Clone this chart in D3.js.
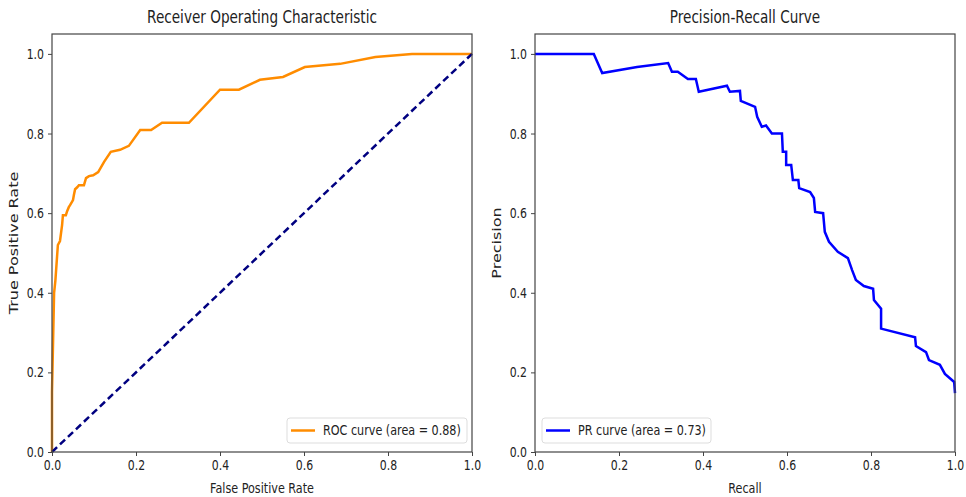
<!DOCTYPE html>
<html>
<head>
	<script src="https://cdn.jsdelivr.net/npm/d3@7"></script>
	<style>
		html, body { padding: 0; margin: 0; background: #fff; }
		text { font-family: "DejaVu Sans", sans-serif; fill: #222; }
	</style>
</head>
<body>
<script>
	var width = 966, height = 497;
	var sx = 0.8; // text in the picture is squeezed horizontally

	// ROC curve
	var rocFpr = [0, 0, 0.003, 0.005, 0.008, 0.012, 0.014, 0.019, 0.024, 0.026, 0.033, 0.036, 0.040, 0.043, 0.05, 0.052, 0.055, 0.06, 0.064, 0.076, 0.081, 0.088, 0.098, 0.11, 0.124, 0.14, 0.162, 0.183, 0.21, 0.236, 0.262, 0.326, 0.4, 0.445, 0.495, 0.55, 0.602, 0.686, 0.77, 0.857, 1];
	var rocTpr = [0, 0.15, 0.3, 0.4, 0.43, 0.49, 0.52, 0.53, 0.57, 0.595, 0.595, 0.605, 0.615, 0.62, 0.633, 0.645, 0.66, 0.665, 0.67, 0.67, 0.688, 0.693, 0.695, 0.703, 0.729, 0.754, 0.759, 0.769, 0.809, 0.809, 0.827, 0.827, 0.91, 0.91, 0.935, 0.942, 0.967, 0.975, 0.992, 1, 1];
	var chance = [0, 1];

	// precision-recall curve
	var prRecall = [0, 0.14, 0.16, 0.243, 0.317, 0.326, 0.34, 0.364, 0.383, 0.39, 0.457, 0.464, 0.488, 0.49, 0.524, 0.529, 0.54, 0.55, 0.564, 0.588, 0.59, 0.598, 0.598, 0.61, 0.614, 0.627, 0.629, 0.655, 0.664, 0.667, 0.686, 0.69, 0.7, 0.721, 0.745, 0.755, 0.764, 0.783, 0.805, 0.807, 0.824, 0.824, 0.905, 0.907, 0.931, 0.938, 0.964, 0.976, 0.998, 1];
	var prPrecision = [1, 1, 0.952, 0.967, 0.977, 0.955, 0.955, 0.937, 0.937, 0.905, 0.92, 0.905, 0.907, 0.882, 0.867, 0.842, 0.817, 0.82, 0.8, 0.80, 0.754, 0.754, 0.721, 0.721, 0.683, 0.683, 0.663, 0.653, 0.638, 0.603, 0.6, 0.553, 0.528, 0.503, 0.487, 0.457, 0.432, 0.417, 0.41, 0.382, 0.36, 0.31, 0.288, 0.266, 0.251, 0.231, 0.219, 0.196, 0.176, 0.148];

	var ticks = [0, 0.2, 0.4, 0.6, 0.8, 1.0];

	var svg = d3.select('body').append('svg')
		.attr('width', width)
		.attr('height', height);

	// text squeezed along x of the page, rotated or not
	function squeezed(sel, x, y, str, size, anchor, rotate) {
		return sel.append('text')
			.attr('transform', 'translate(' + x + ',' + y + ')' + (rotate ? ' rotate(-90) scale(1,0.72)' : ' scale(' + sx + ',1)'))
			.attr('text-anchor', anchor || 'middle')
			.attr('dominant-baseline', 'middle')
			.style('font-size', size + 'px')
			.text(str);
	}

	function panel(left, opts) {
		var top = 34, bottom = 452, right = left + 420;
		var x = d3.scaleLinear().domain([0, 1]).range([left, right]);
		var y = d3.scaleLinear().domain([0, 1.05]).range([bottom, top]);
		var g = svg.append('g');

		// curves
		var line = d3.line().x(function(d) { return x(d[0]); }).y(function(d) { return y(d[1]); });
		opts.series.forEach(function(s) {
			g.append('path')
				.datum(d3.zip(s.x, s.y))
				.attr('d', line)
				.attr('fill', 'none')
				.attr('stroke', s.color)
				.attr('stroke-width', 2.5)
				.attr('stroke-dasharray', s.dash || null);
		});

		// frame
		g.append('rect')
			.attr('x', left).attr('y', top)
			.attr('width', right - left).attr('height', bottom - top)
			.attr('fill', 'none').attr('stroke', '#444').attr('stroke-width', 1.2);

		var xa = g.append('g').attr('transform', 'translate(0,' + bottom + ')')
			.call(d3.axisBottom(x).tickValues(ticks).tickFormat(d3.format('.1f')).tickSize(4).tickPadding(4));
		var ya = g.append('g').attr('transform', 'translate(' + left + ',0)')
			.call(d3.axisLeft(y).tickValues(ticks).tickFormat(d3.format('.1f')).tickSize(4).tickPadding(4));
		[xa, ya].forEach(function(a) {
			a.select('.domain').remove();
			a.selectAll('line').attr('stroke', '#444');
			a.selectAll('text').style('font-size', '14px').style('font-family', '"DejaVu Sans", sans-serif').attr('fill', '#222');
		});
		xa.selectAll('text').attr('transform', 'scale(0.78,1)');
		ya.selectAll('text').attr('x', -8 / 0.78).attr('transform', 'scale(0.78,1)');

		squeezed(svg, (left + right) / 2, 18, opts.title, 17);
		squeezed(svg, (left + right) / 2, 489, opts.xlabel, 14);
		squeezed(svg, left - 37, (top + bottom) / 2, opts.ylabel, 16, 'middle', true);

		// legend
		var lg = svg.append('g');
		var lx = opts.legendX, lw = opts.legendW;
		lg.append('rect')
			.attr('x', lx).attr('y', 418).attr('width', lw).attr('height', 25).attr('rx', 3)
			.attr('fill', '#fff').attr('stroke', '#ddd');
		lg.append('line')
			.attr('x1', lx + 4).attr('x2', lx + 28).attr('y1', 430.5).attr('y2', 430.5)
			.attr('stroke', opts.legendColor).attr('stroke-width', 2.5);
		squeezed(lg, lx + 36, 431, opts.legend, 14, 'start');
	}

	panel(52, {
		title: 'Receiver Operating Characteristic',
		xlabel: 'False Positive Rate',
		ylabel: 'True Positive Rate',
		legend: 'ROC curve (area = 0.88)',
		legendColor: '#ff8c00',
		legendX: 287, legendW: 180,
		series: [
			{ x: rocFpr, y: rocTpr, color: '#ff8c00' },
			{ x: chance, y: chance, color: '#000080', dash: '7,4' }
		]
	});

	panel(535, {
		title: 'Precision-Recall Curve',
		xlabel: 'Recall',
		ylabel: 'Precision',
		legend: 'PR curve (area = 0.73)',
		legendColor: '#0000ff',
		legendX: 542, legendW: 169,
		series: [
			{ x: prRecall, y: prPrecision, color: '#0000ff' }
		]
	});
</script>
</body>
</html>
